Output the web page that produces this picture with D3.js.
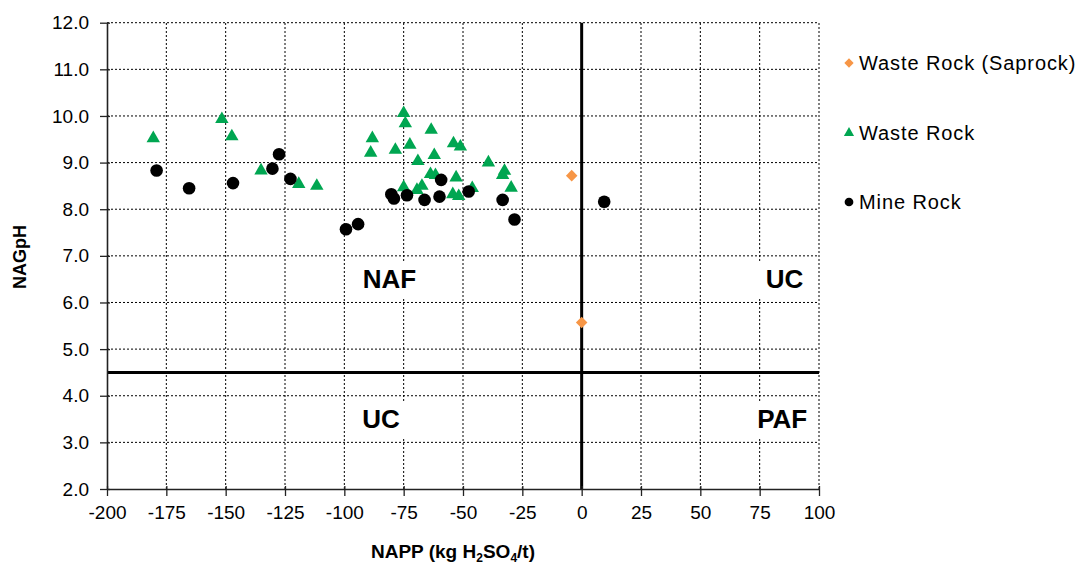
<!DOCTYPE html>
<html>
<head>
<meta charset="utf-8">
<script src="https://cdn.jsdelivr.net/npm/d3@7"></script>
<style>
  html, body { margin: 0; padding: 0; background: #fff; }
  svg { display: block; font-family: "Liberation Sans", Arial, sans-serif; }
</style>
</head>
<body>
<svg id="chart" width="1079" height="565"></svg>
<script>
// NAPP (kg H2SO4/t) vs NAGpH for each rock type
const saprockNapp = [-4.2, 0.0];
const saprockNag  = [8.72, 5.57];

const wasteNapp = [-180.5, -151.6, -147.4, -135.1, -119.2, -111.6, -88.2, -88.9, -78.5, -75.0,
                   -74.3, -72.4, -63.4, -69.0, -62.1, -54.0, -51.1, -39.3, -32.5, -33.3,
                   -29.7, -75.0, -69.4, -67.3, -63.7, -61.6, -52.9, -54.3, -51.8, -46.1];
const wasteNag  = [9.52, 9.93, 9.56, 8.83, 8.54, 8.50, 9.52, 9.21, 9.27, 10.06,
                   9.84, 9.38, 9.70, 9.03, 9.16, 9.41, 9.34, 9.00, 8.82, 8.73,
                   8.46, 8.47, 8.41, 8.50, 8.75, 8.73, 8.68, 8.32, 8.28, 8.45];

const mineNapp = [-179.1, -165.4, -146.9, -130.3, -127.5, -122.7, -99.3, -94.2, -80.2, -79.1,
                  -73.6, -66.2, -59.2, -59.9, -47.6, -33.3, -28.3, 9.5];
const mineNag  = [8.83, 8.45, 8.56, 8.87, 9.18, 8.65, 7.57, 7.68, 8.32, 8.23,
                  8.30, 8.20, 8.63, 8.27, 8.38, 8.20, 7.78, 8.16];

const xTicks = [-200, -175, -150, -125, -100, -75, -50, -25, 0, 25, 50, 75, 100];
const yTicks = [2, 3, 4, 5, 6, 7, 8, 9, 10, 11, 12];

// Classification thresholds and zone labels
const nappLimit = 0;
const nagLimit = 4.5;
const zoneNames = ["NAF", "UC", "UC", "PAF"];
const zoneNapp  = [-81, 85.5, -84.5, 84.5];
const zoneNag   = [6.5, 6.5, 3.5, 3.5];

const seriesNames = ["Waste Rock (Saprock)", "Waste Rock", "Mine Rock"];

const svg = d3.select("#chart");
svg.append("rect").attr("width", 1079).attr("height", 565).attr("fill", "#fff");

const x = d3.scaleLinear().domain([-200, 100]).range([107, 819]);
const y = d3.scaleLinear().domain([2, 12]).range([489, 22.7]);

// dotted grid
const grid = svg.append("g").attr("stroke", "#000").attr("stroke-width", 1)
  .attr("stroke-dasharray", "2,2").attr("fill", "none");
grid.selectAll("line.h").data(yTicks.filter(d => d > 2)).join("line")
  .attr("x1", x(-200)).attr("x2", x(100))
  .attr("y1", d => y(d)).attr("y2", d => y(d));
grid.selectAll("line.v").data(xTicks.filter(d => d > -200)).join("line")
  .attr("y1", y(2)).attr("y2", y(12))
  .attr("x1", d => x(d)).attr("x2", d => x(d));

// zone labels on white boxes
const zones = zoneNames.map((n, i) => ({ name: n, napp: zoneNapp[i], nag: zoneNag[i] }));
const zg = svg.append("g");
zones.forEach(z => {
  const g = zg.append("g");
  const t = g.append("text")
    .attr("x", x(z.napp)).attr("y", y(z.nag))
    .attr("text-anchor", "middle").attr("dy", "0.35em")
    .attr("font-weight", "bold").attr("font-size", 26).attr("fill", "#000")
    .text(z.name);
  const bb = t.node().getBBox();
  g.insert("rect", "text")
    .attr("x", bb.x - 10).attr("y", y(z.nag) - 17)
    .attr("width", bb.width + 20).attr("height", 35)
    .attr("fill", "#fff");
});

// threshold lines
svg.append("line").attr("x1", x(nappLimit)).attr("x2", x(nappLimit))
  .attr("y1", y(12)).attr("y2", y(2)).attr("stroke", "#000").attr("stroke-width", 3);
svg.append("line").attr("x1", x(-200)).attr("x2", x(100))
  .attr("y1", y(nagLimit)).attr("y2", y(nagLimit)).attr("stroke", "#000").attr("stroke-width", 3);

// axes
const yAxis = svg.append("g").attr("transform", `translate(${x(-200)},0)`)
  .call(d3.axisLeft(y).tickValues(yTicks).tickFormat(d => d.toFixed(1)).tickSize(7).tickPadding(11).tickSizeOuter(0));
const xAxis = svg.append("g").attr("transform", `translate(0,${y(2)})`)
  .call(d3.axisBottom(x).tickValues(xTicks).tickFormat(d => String(d)).tickSize(7).tickPadding(10).tickSizeOuter(0));
[yAxis, xAxis].forEach(a => {
  a.select(".domain").attr("stroke", "#222").attr("stroke-width", 1.6);
  a.selectAll(".tick line").attr("stroke", "#222").attr("stroke-width", 1.3);
  a.selectAll("text").attr("font-size", 19).attr("fill", "#000")
    .attr("font-family", "'Liberation Sans', Arial, sans-serif");
});
xAxis.selectAll(".tick line").attr("y1", -3);
yAxis.selectAll(".tick line").attr("x1", 3);

// axis titles
svg.append("text").attr("transform", "translate(26,257) rotate(-90)")
  .attr("text-anchor", "middle").attr("font-weight", "bold").attr("font-size", 18)
  .text("NAGpH");
const xt = svg.append("text").attr("x", 453).attr("y", 558)
  .attr("text-anchor", "middle").attr("font-weight", "bold").attr("font-size", 19);
xt.append("tspan").text("NAPP (kg H");
xt.append("tspan").attr("font-size", 12).attr("dy", 4).text("2");
xt.append("tspan").attr("dy", -4).text("SO");
xt.append("tspan").attr("font-size", 12).attr("dy", 4).text("4");
xt.append("tspan").attr("dy", -4).text("/t)");

// markers
const orange = "#F79646", green = "#00A651";
const diamond = d3.symbol().type(d3.symbolDiamond2).size(85);
const tri = d3.symbol().type(d3.symbolTriangle).size(78);
const circ = d3.symbol().type(d3.symbolCircle).size(125);

const wasteData = wasteNapp.map((v, i) => [v, wasteNag[i]]);
const mineData = mineNapp.map((v, i) => [v, mineNag[i]]);
const sapData = saprockNapp.map((v, i) => [v, saprockNag[i]]);

svg.append("g").selectAll("path").data(wasteData).join("path")
  .attr("d", tri).attr("fill", green)
  .attr("transform", d => `translate(${x(d[0])},${y(d[1])})`);
svg.append("g").selectAll("path").data(mineData).join("path")
  .attr("d", circ).attr("fill", "#000")
  .attr("transform", d => `translate(${x(d[0])},${y(d[1])})`);
svg.append("g").selectAll("path").data(sapData).join("path")
  .attr("d", diamond).attr("fill", orange)
  .attr("transform", d => `translate(${x(d[0])},${y(d[1])})`);

// legend
const legendSymbols = [
  d3.symbol().type(d3.symbolDiamond2).size(55)(),
  d3.symbol().type(d3.symbolTriangle).size(45)(),
  d3.symbol().type(d3.symbolCircle).size(60)()
];
const legendColors = [orange, green, "#000"];
const legendY = [63, 133, 202];
const lg = svg.append("g");
seriesNames.forEach((name, i) => {
  lg.append("path").attr("d", legendSymbols[i]).attr("fill", legendColors[i])
    .attr("transform", `translate(849,${legendY[i]})`);
  lg.append("text").attr("x", 859).attr("y", legendY[i] + 7)
    .attr("font-size", 20).attr("letter-spacing", 0.9).text(name);
});
</script>
</body>
</html>
